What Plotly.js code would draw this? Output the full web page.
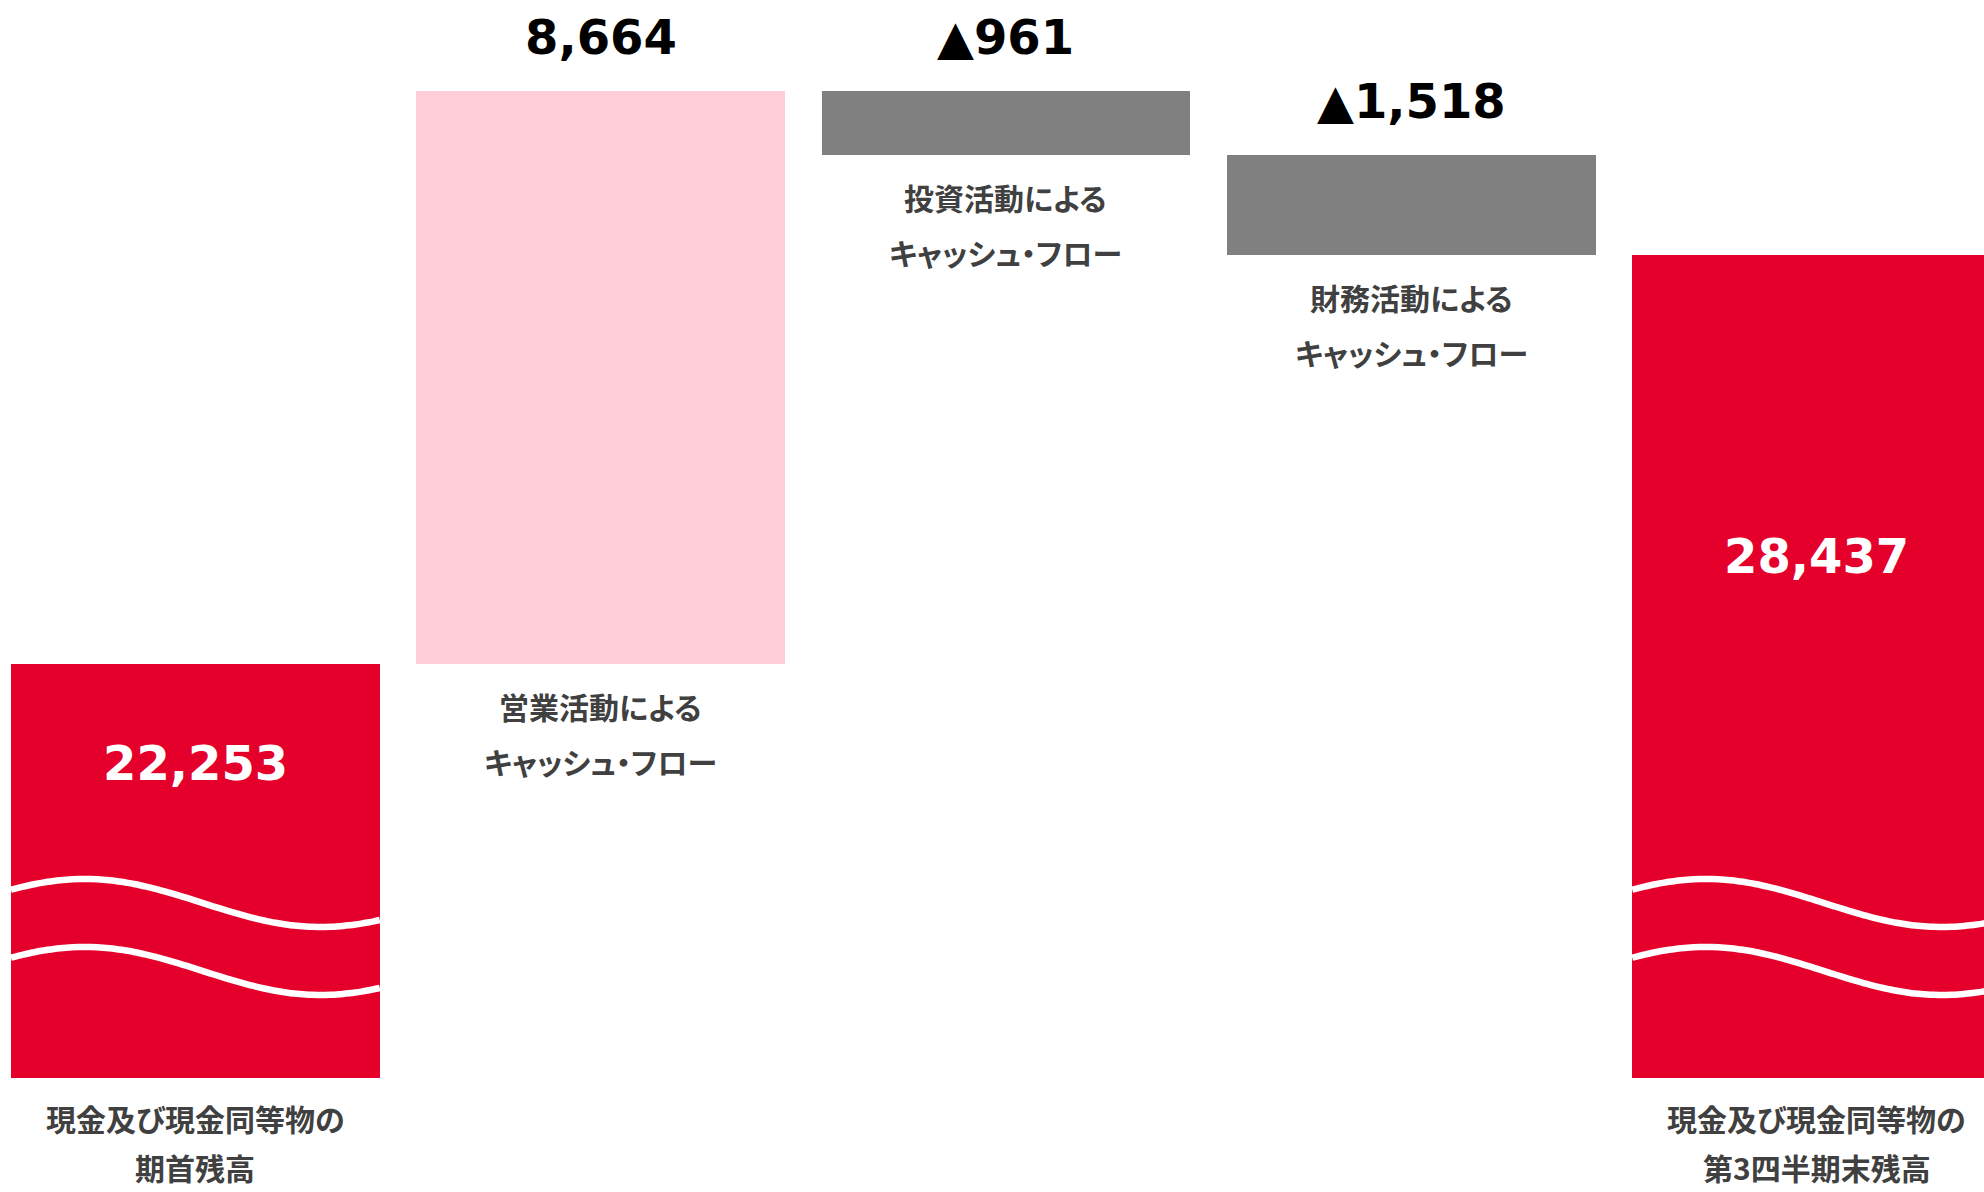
<!DOCTYPE html>
<html>
<head>
<meta charset="utf-8">
<script src="https://cdn.plot.ly/plotly-3.0.1.min.js"></script>
<style>
html,body{margin:0;padding:0;background:#fff;}
#chart{width:1984px;height:1192px;}
.annotation-text{font-feature-settings:"palt";}
</style>
</head>
<body>
<div id="chart"></div>
<script>
// ---- data ----
const labelLine1 = ['現金及び現金同等物の', '営業活動による', '投資活動による', '財務活動による', '現金及び現金同等物の'];
const labelLine2 = ['期首残高', 'キャッシュ・フロー', 'キャッシュ・フロー', 'キャッシュ・フロー', '第3四半期末残高'];
const startBalance = 22253;
const deltas = [8664, -961, -1518];
const endBalance = 28437;
const valueLabels = ['22,253', '8,664', '▲961', '▲1,518', '28,437'];

// ---- styling ----
const RED = '#E4002B', PINK = '#FFCED8', GRAY = '#808080';
const yRange = [15993, 32293];
const xRange = [-0.482, 4.413];
const barWidth = 0.91;

// build bars
const xs = [], heights = [], bases = [], colors = [];
xs.push(0); heights.push(startBalance); bases.push(0); colors.push(RED);
let running = startBalance;
deltas.forEach((d, k) => {
  xs.push(k + 1);
  bases.push(Math.min(running, running + d));
  heights.push(Math.abs(d));
  colors.push(d >= 0 ? PINK : GRAY);
  running += d;
});
xs.push(4); heights.push(endBalance); bases.push(0); colors.push(RED);

const traces = [{
  type: 'bar',
  x: xs, y: heights, base: bases, width: barWidth,
  marker: {color: colors, line: {width: 0}},
  hoverinfo: 'skip', showlegend: false
}];

// decorative break waves on the two balance bars (axis break marker)
const waveMeans = [18639, 17611];
const waveAmp = 363;
[0, 4].forEach(i => {
  waveMeans.forEach(m => {
    const wx = [], wy = [];
    for (let s = 0; s <= 60; s++) {
      const f = s / 60;
      wx.push(i - barWidth / 2 + f * barWidth);
      wy.push(m + waveAmp * Math.cos(2 * Math.PI * (f - 0.2) / 1.28));
    }
    traces.push({type: 'scatter', mode: 'lines', x: wx, y: wy,
      line: {color: '#ffffff', width: 6.5, shape: 'spline'},
      hoverinfo: 'skip', showlegend: false});
  });
});

const annotations = [];
const numFont = {family: 'DejaVu Sans, Verdana, sans-serif', size: 48, weight: 'bold'};
const catFont = {family: 'Noto Sans CJK JP, sans-serif', size: 30, weight: 'bold', color: '#404040'};
const totalOffsets = {0: -99, 4: -301};

xs.forEach((x, i) => {
  const top = bases[i] + heights[i];
  const isTotal = (i === 0 || i === xs.length - 1);
  if (isTotal) {
    annotations.push({x: x, y: top, xref: 'x', yref: 'y', text: valueLabels[i], showarrow: false,
      yanchor: 'middle', yshift: totalOffsets[i], font: Object.assign({}, numFont, {color: '#ffffff'})});
  } else {
    annotations.push({x: x, y: top, xref: 'x', yref: 'y', text: valueLabels[i], showarrow: false,
      yanchor: 'middle', yshift: 54, font: Object.assign({}, numFont, {color: '#000000'})});
  }
  const bottom = isTotal ? yRange[0] : bases[i];
  const s1 = isTotal ? -40 : -42;
  const s2 = isTotal ? -89 : -97;
  annotations.push({x: x, y: bottom, xref: 'x', yref: 'y', text: labelLine1[i], showarrow: false,
    yanchor: 'middle', yshift: s1, font: catFont});
  annotations.push({x: x, y: bottom, xref: 'x', yref: 'y', text: labelLine2[i], showarrow: false,
    yanchor: 'middle', yshift: s2, font: catFont});
});

const layout = {
  width: 1984, height: 1192,
  margin: {l: 0, r: 0, t: 0, b: 114, pad: 0},
  paper_bgcolor: '#ffffff', plot_bgcolor: '#ffffff',
  xaxis: {range: xRange, visible: false, fixedrange: true},
  yaxis: {range: yRange, visible: false, fixedrange: true},
  annotations: annotations,
  showlegend: false,
  bargap: 0
};

Plotly.newPlot('chart', traces, layout, {displayModeBar: false, staticPlot: true});
</script>
</body>
</html>
